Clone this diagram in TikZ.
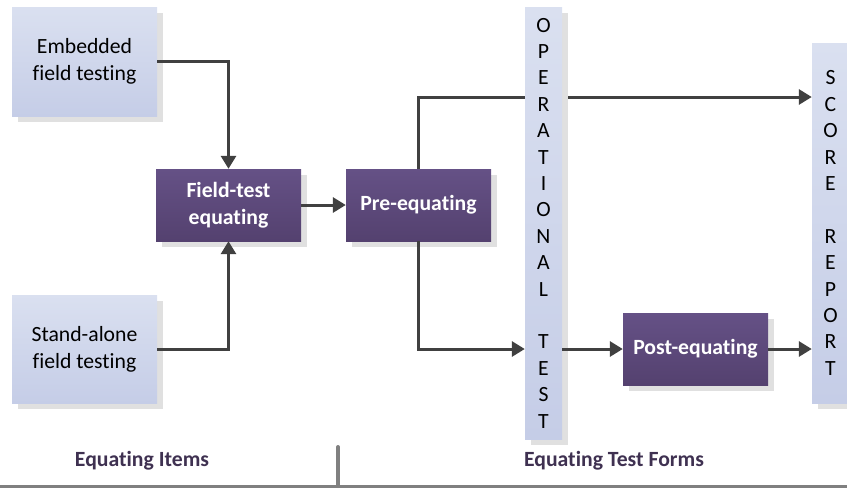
\documentclass[tikz,border=0pt]{standalone}
\usepackage{fontspec}
\setmainfont{Carlito}[Ligatures={NoCommon,NoContextual}]
\usetikzlibrary{arrows.meta,shadows,backgrounds}

\definecolor{lighttop}{RGB}{218,224,240}
\definecolor{lightbot}{RGB}{197,205,231}
\definecolor{darktop}{RGB}{101,81,134}
\definecolor{darkbot}{RGB}{84,65,111}
\definecolor{linegray}{RGB}{64,64,64}
\definecolor{rulegray}{RGB}{128,128,128}
\definecolor{labelpurple}{RGB}{63,49,81}

\tikzset{
  boxshadow/.style={drop shadow={shadow xshift=6pt,shadow yshift=-6pt,fill=black!12,opacity=1}},
  lightbox/.style={boxshadow,top color=lighttop,bottom color=lightbot,align=center,
    minimum width=145pt,inner sep=0pt},
  darkbox/.style={boxshadow,top color=darktop,bottom color=darkbot,text=white,align=center,
    minimum width=145pt,minimum height=72pt,inner sep=0pt,font=\fontsize{21.7pt}{27pt}\selectfont\bfseries},
  barbox/.style={boxshadow,top color=lighttop,bottom color=lightbot,align=center,
    minimum width=37pt,inner sep=0pt,font=\fontsize{21.7pt}{26.4pt}\selectfont},
  flow/.style={draw=linegray,line width=3pt,-{Triangle[length=13pt,width=15pt]}},
  sectionlabel/.style={text=labelpurple,font=\fontsize{21.7pt}{27pt}\selectfont\bfseries}
}

\begin{document}
\begin{tikzpicture}[x=1pt,y=-1pt,font=\fontsize{21.7pt}{27pt}\selectfont]
    \useasboundingbox (0,0) rectangle (847,488);

    % input boxes
    \node[lightbox,minimum height=109pt] (embedded) at (84.5, 61.5) {Embedded\\field testing};
    \node[lightbox,minimum height=108pt] (standalone) at (84.5, 349) {Stand-alone\\field testing};

    % equating steps
    \node[darkbox] (fieldtest) at (228.5, 205) {Field-test\\equating};
    \node[darkbox] (preeq) at (418.5, 205) {Pre-equating};
    \node[darkbox] (posteq) at (695.5, 349) {Post-equating};

    % vertical bars
    \node[barbox,minimum height=432pt] (optest) at (543.5, 223)
        {O\\P\\E\\R\\A\\T\\I\\O\\N\\A\\L\\ \\T\\E\\S\\T};
    \node[barbox,minimum height=360pt] (score) at (830.5, 223)
        {S\\C\\O\\R\\E\\ \\R\\E\\P\\O\\R\\T};

    \coordinate (scorein) at (score.west |- 0,97);

    \begin{pgfonlayer}{background}
    \path[flow] (preeq.north) |- (scorein);
    \end{pgfonlayer}

    \path[flow] (embedded.east) -| (fieldtest.north);
    \path[flow] (standalone.east) -| (fieldtest.south);
    \path[flow] (fieldtest.east) -- (preeq.west);
    \path[flow] (preeq.south) |- (optest.west |- posteq.west);
    \path[flow] (optest.east |- posteq.west) -- (posteq.west);
    \path[flow] (posteq.east) -- (score.west |- posteq.east);

    % bottom labels
    \node[sectionlabel] (items) at (142, 461) {Equating Items};
    \node[sectionlabel] (forms) at (614, 461) {Equating Test Forms};

    \coordinate (ruleleft) at (0, 486);
    \coordinate (ruleright) at (847, 486);
    \coordinate (divtop) at (338, 447);
    \coordinate (divbot) at (338, 486);
    \draw[rulegray,line width=3pt] (ruleleft) -- (ruleright);
    \draw[rulegray,line width=4pt,line cap=round] (divtop) -- (divbot);

\end{tikzpicture}
\end{document}
